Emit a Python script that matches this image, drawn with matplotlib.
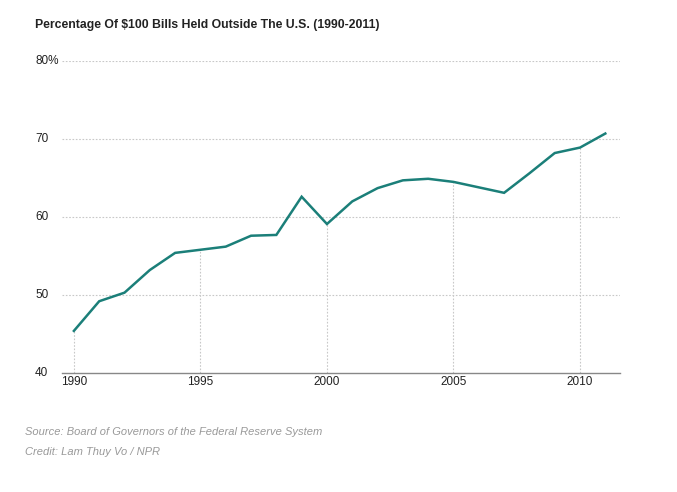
import matplotlib
matplotlib.use("Agg")
import matplotlib.pyplot as plt
import matplotlib.transforms as mtransforms

years = list(range(1990, 2012))
share = [45.4, 49.2, 50.3, 53.2, 55.4, 55.8, 56.2, 57.6, 57.7, 62.6, 59.1,
         62.0, 63.7, 64.7, 64.9, 64.5, 63.8, 63.1, 65.6, 68.2, 68.9, 70.7]
y_ticks = [40, 50, 60, 70, 80]
y_labels = ["40", "50", "60", "70", "80%"]
x_ticks = [1990, 1995, 2000, 2005, 2010]

LINE = "#1b7f79"
GRID = "#c8c8c8"
TEXT = "#222222"

fig = plt.figure(figsize=(6.77, 4.92), dpi=100)
ax = fig.add_axes([62 / 677, 1 - 373 / 492, (620 - 62) / 677, (373 - 61) / 492])
ax.set_xlim(1989.53, 2011.58)
ax.set_ylim(40, 80)

# horizontal dotted gridlines
for v in y_ticks[1:]:
    ax.axhline(v, color=GRID, lw=0.8, ls=(0, (1.5, 1.5)), zorder=1)
# vertical dotted lines only up to the line
for x in x_ticks:
    ax.vlines(x, 40, share[years.index(x)], color=GRID, lw=0.8,
              ls=(0, (1.5, 1.5)), zorder=1)

ax.plot(years, share, color=LINE, lw=1.8, zorder=3, solid_joinstyle="miter")

for s in ["top", "right", "left"]:
    ax.spines[s].set_visible(False)
ax.spines["bottom"].set_color("#888888")
ax.spines["bottom"].set_linewidth(1.0)

ax.set_yticks([])
ax.set_xticks(x_ticks)
ax.set_xticklabels([str(x) for x in x_ticks], fontsize=8.5, color=TEXT,
                   family="Liberation Sans")
ax.tick_params(axis="x", length=0, pad=2)

trans = mtransforms.blended_transform_factory(fig.transFigure, ax.transData)
for v, lab in zip(y_ticks, y_labels):
    ax.text(35 / 677, v + 0.2, lab, transform=trans, ha="left", va="center_baseline",
            fontsize=8.5, color=TEXT, family="Liberation Sans")

fig.text(35 / 677, 1 - 25 / 492, "Percentage Of $100 Bills Held Outside The U.S. (1990-2011)",
         fontsize=8.8, fontweight="bold", color=TEXT, ha="left", va="center",
         family="Liberation Sans")
fig.text(25 / 677, 1 - 432 / 492, "Source: Board of Governors of the Federal Reserve System",
         fontsize=8, style="italic", color="#999999", ha="left", va="center",
         family="Liberation Sans")
fig.text(25 / 677, 1 - 452 / 492, "Credit: Lam Thuy Vo / NPR",
         fontsize=8, style="italic", color="#999999", ha="left", va="center",
         family="Liberation Sans")

fig.savefig("out.png", dpi=100)
